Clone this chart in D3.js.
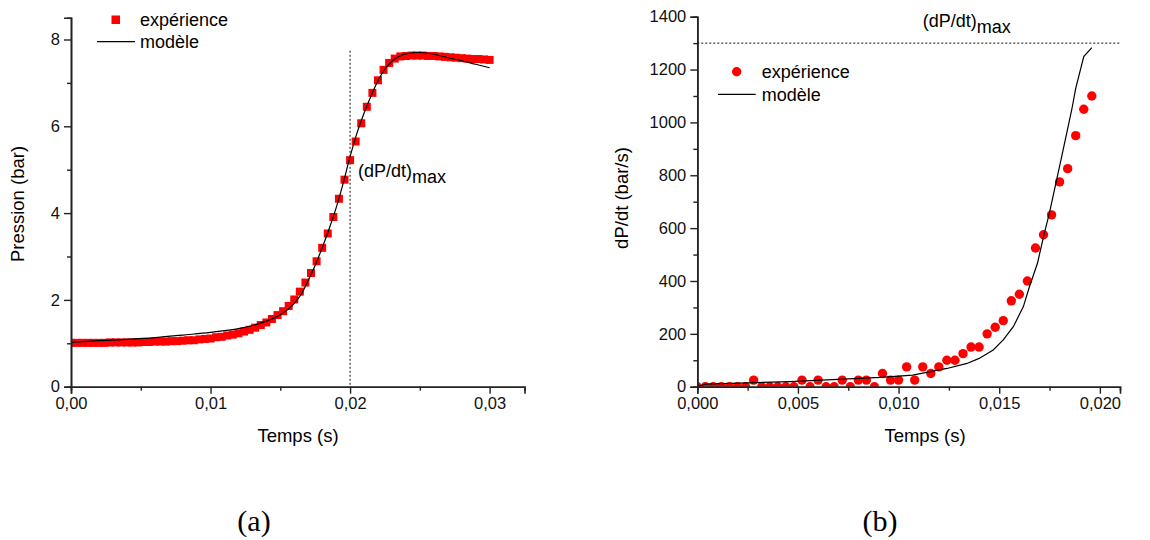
<!DOCTYPE html>
<html><head><meta charset="utf-8">
<script src="https://cdn.jsdelivr.net/npm/d3@7"></script>
<style>
body{margin:0;background:#fff;}
svg{display:block;font-family:"Liberation Sans",Arial,sans-serif;}
</style></head>
<body><svg id="c" width="1150" height="540"></svg>
<script>
// ---- Chart (a): pressure ----
const expTimeA = [0,0.0004,0.0008,0.0012,0.0016,0.002,0.0024,0.0028,0.0032,0.0036,0.004,0.0044,0.0048,0.0052,0.0056,0.006,0.0064,0.0068,0.0072,0.0076,0.008,0.0084,0.0088,0.0092,0.0096,0.01,0.0104,0.0108,0.0112,0.0116,0.012,0.0124,0.0128,0.0132,0.0136,0.014,0.0144,0.0148,0.0152,0.0156,0.016,0.0164,0.0168,0.0172,0.0176,0.018,0.0184,0.0188,0.0192,0.0196,0.02,0.0204,0.0208,0.0212,0.0216,0.022,0.0224,0.0228,0.0232,0.0236,0.024,0.0244,0.0248,0.0252,0.0256,0.026,0.0264,0.0268,0.0272,0.0276,0.028,0.0284,0.0288,0.0292,0.0296,0.03];
const expPressure = [1.01,1.01,1.01,1.01,1.01,1.01,1.01,1.02,1.02,1.02,1.02,1.02,1.02,1.03,1.03,1.04,1.04,1.04,1.05,1.05,1.06,1.07,1.07,1.09,1.10,1.11,1.14,1.15,1.18,1.20,1.23,1.27,1.31,1.36,1.42,1.48,1.56,1.65,1.74,1.86,2.01,2.19,2.40,2.62,2.89,3.20,3.53,3.91,4.33,4.77,5.22,5.65,6.07,6.45,6.77,7.06,7.30,7.46,7.56,7.61,7.62,7.63,7.63,7.63,7.62,7.62,7.61,7.60,7.59,7.58,7.57,7.56,7.55,7.55,7.54,7.53];
const modTimeA = [0,0.002,0.004,0.006,0.008,0.010,0.011,0.012,0.013,0.014,0.015,0.0155,0.016,0.0165,0.017,0.0175,0.018,0.0185,0.019,0.0195,0.020,0.0205,0.021,0.0215,0.022,0.0225,0.023,0.0235,0.024,0.025,0.026,0.027,0.028,0.029,0.030];
const modPressure = [1.02,1.06,1.09,1.13,1.19,1.25,1.29,1.34,1.41,1.51,1.66,1.77,1.92,2.13,2.45,2.80,3.20,3.64,4.12,4.68,5.30,5.85,6.30,6.70,7.05,7.32,7.50,7.61,7.67,7.70,7.66,7.58,7.51,7.43,7.35];
const xTicksA = [0,0.01,0.02,0.03];
const xTickLabelsA = ["0,00","0,01","0,02","0,03"];
const xMinorA = [0.005,0.015,0.025];
const yTicksA = [0,2,4,6,8];
const yTickLabelsA = ["0","2","4","6","8"];
const yMinorA = [1,3,5,7];
const dPdtMaxTimeA = 0.02;
const dashTopA = 7.74;

// ---- Chart (b): dP/dt ----
const expTimeB = [0,0.0004,0.0008,0.0012,0.0016,0.002,0.0024,0.0028,0.0032,0.0036,0.004,0.0044,0.0048,0.0052,0.0056,0.006,0.0064,0.0068,0.0072,0.0076,0.008,0.0084,0.0088,0.0092,0.0096,0.01,0.0104,0.0108,0.0112,0.0116,0.012,0.0124,0.0128,0.0132,0.0136,0.014,0.0144,0.0148,0.0152,0.0156,0.016,0.0164,0.0168,0.0172,0.0176,0.018,0.0184,0.0188,0.0192,0.0196];
const expRate = [0,0,0,0,0,0,0,25,0,0,0,0,0,25,0,25,0,0,25,0,25,25,0,50,25,25,75,25,75,50,75,100,100,125,150,150,200,225,250,325,350,400,525,575,650,775,825,950,1050,1100];
const modTimeB = [0,0.0004,0.0046,0.0091,0.0107,0.0124,0.0134,0.0140,0.0147,0.0152,0.0157,0.0162,0.0165,0.0169,0.0172,0.0175,0.0177,0.0181,0.0186,0.0188,0.0192,0.0196];
const modRate = [0,10,19,35,44,69,88,107,139,177,227,303,378,467,568,660,730,870,1047,1129,1249,1283];
const xTicksB = [0,0.005,0.01,0.015,0.02];
const xTickLabelsB = ["0,000","0,005","0,010","0,015","0,020"];
const xMinorB = [0.0025,0.0075,0.0125,0.0175];
const yTicksB = [0,200,400,600,800,1000,1200,1400];
const yTickLabelsB = ["0","200","400","600","800","1000","1200","1400"];
const yMinorB = [100,300,500,700,900,1100,1300];
const dPdtMaxRate = 1300;

const legendLabels = ["expérience","modèle"];

const svg = d3.select("#c");
const AX = "#222";
const FS_TICK = 16.5, FS_LAB = 18.5, FS_LEG = 18;

function drawAxes(g, x, y, xt, xtl, xm, yt, ytl, ym) {
  g.append("g").attr("transform", `translate(0,${y.range()[0]})`)
    .call(d3.axisBottom(x).tickValues(xt).tickFormat((d,i)=>xtl[i]).tickSizeOuter(0).tickSize(7).tickPadding(4));
  g.append("g").attr("transform", `translate(0,${y.range()[0]})`)
    .call(d3.axisBottom(x).tickValues(xm).tickFormat("").tickSizeOuter(0).tickSize(4));
  g.append("g").attr("transform", `translate(${x.range()[0]},0)`)
    .call(d3.axisLeft(y).tickValues(yt).tickFormat((d,i)=>ytl[i]).tickSizeOuter(0).tickSize(7).tickPadding(4));
  g.append("g").attr("transform", `translate(${x.range()[0]},0)`)
    .call(d3.axisLeft(y).tickValues(ym).tickFormat("").tickSizeOuter(0).tickSize(4));
  g.selectAll(".domain").attr("stroke", AX).attr("stroke-width", 1.6);
  g.selectAll(".tick line").attr("stroke", AX).attr("stroke-width", 1.4);
  g.selectAll(".tick text").attr("font-size", FS_TICK).attr("fill", "#111")
    .attr("font-family", '"Liberation Sans",Arial,sans-serif');
}

// ===== Chart A =====
const xA = d3.scaleLinear().domain([0, 0.0325]).range([71, 524.5]);
const yA = d3.scaleLinear().domain([0, 8.5]).range([386.7, 17.8]);
const gA = svg.append("g");
gA.append("clipPath").attr("id","clipA").append("rect")
  .attr("x",71).attr("y",0).attr("width",460).attr("height",386.7);

gA.append("line").attr("x1", xA(dPdtMaxTimeA)).attr("x2", xA(dPdtMaxTimeA))
  .attr("y1", yA(dashTopA)).attr("y2", yA(0))
  .attr("stroke","#111").attr("stroke-width",1).attr("stroke-dasharray","2,2");

gA.append("g").attr("clip-path","url(#clipA)").selectAll("rect")
  .data(expTimeA.map((t,i)=>[t,expPressure[i]])).join("rect")
  .attr("x", d=>xA(d[0])-4).attr("y", d=>yA(d[1])-4)
  .attr("width",8).attr("height",8).attr("fill","#ff0000");

gA.append("path").datum(modTimeA.map((t,i)=>[t,modPressure[i]]))
  .attr("d", d3.line().x(d=>xA(d[0])).y(d=>yA(d[1])).curve(d3.curveMonotoneX))
  .attr("fill","none").attr("stroke","#000").attr("stroke-width",1.2);

drawAxes(gA, xA, yA, xTicksA, xTickLabelsA, xMinorA, yTicksA, yTickLabelsA, yMinorA);

gA.append("text").attr("x", 298).attr("y", 442).attr("text-anchor","middle")
  .attr("font-size",FS_LAB).text("Temps (s)");
gA.append("text").attr("transform","translate(24,204) rotate(-90)").attr("text-anchor","middle")
  .attr("font-size",FS_LAB).text("Pression (bar)");
// legend A
gA.append("rect").attr("x",111.5).attr("y",15.5).attr("width",8.5).attr("height",8.5).attr("fill","#ff0000");
gA.append("text").attr("x",140).attr("y",26).attr("font-size",FS_LEG).text(legendLabels[0]);
gA.append("line").attr("x1",97).attr("x2",135).attr("y1",41.7).attr("y2",41.7).attr("stroke","#000").attr("stroke-width",1.2);
gA.append("text").attr("x",140).attr("y",48).attr("font-size",FS_LEG).text(legendLabels[1]);
// annotation A
const tA = gA.append("text").attr("x",358).attr("y",177).attr("font-size",FS_LEG);
tA.append("tspan").text("(dP/dt)");
tA.append("tspan").attr("dy",6).text("max");

// ===== Chart B =====
const xB = d3.scaleLinear().domain([0, 0.021]).range([697.3, 1120]);
const yB = d3.scaleLinear().domain([0, 1400]).range([386.7, 16.7]);
const gB = svg.append("g");
gB.append("clipPath").attr("id","clipB").append("rect")
  .attr("x",697.3).attr("y",0).attr("width",440).attr("height",386.7);

gB.append("line").attr("x1", xB(0)).attr("x2", xB(0.021))
  .attr("y1", yB(dPdtMaxRate)).attr("y2", yB(dPdtMaxRate))
  .attr("stroke","#111").attr("stroke-width",1).attr("stroke-dasharray","2,2");

gB.append("g").attr("clip-path","url(#clipB)").selectAll("circle")
  .data(expTimeB.map((t,i)=>[t,expRate[i]])).join("circle")
  .attr("cx", d=>xB(d[0])).attr("cy", d=>yB(d[1])).attr("r",4.7).attr("fill","#ff0000");

gB.append("path").datum(modTimeB.map((t,i)=>[t,modRate[i]]))
  .attr("d", d3.line().x(d=>xB(d[0])).y(d=>yB(d[1])))
  .attr("fill","none").attr("stroke","#000").attr("stroke-width",1.2);

drawAxes(gB, xB, yB, xTicksB, xTickLabelsB, xMinorB, yTicksB, yTickLabelsB, yMinorB);

gB.append("text").attr("x", 925).attr("y", 442).attr("text-anchor","middle")
  .attr("font-size",FS_LAB).text("Temps (s)");
gB.append("text").attr("transform","translate(628,198) rotate(-90)").attr("text-anchor","middle")
  .attr("font-size",FS_LAB).text("dP/dt (bar/s)");
// legend B
gB.append("circle").attr("cx",736.7).attr("cy",71.7).attr("r",4.7).attr("fill","#ff0000");
gB.append("text").attr("x",761.7).attr("y",78).attr("font-size",FS_LEG).text(legendLabels[0]);
gB.append("line").attr("x1",718).attr("x2",755.7).attr("y1",94.3).attr("y2",94.3).attr("stroke","#000").attr("stroke-width",1.2);
gB.append("text").attr("x",761.7).attr("y",100.5).attr("font-size",FS_LEG).text(legendLabels[1]);
// annotation B
const tB = gB.append("text").attr("x",922.7).attr("y",27).attr("font-size",FS_LEG);
tB.append("tspan").text("(dP/dt)");
tB.append("tspan").attr("dy",6).text("max");

// captions
svg.append("text").attr("x",254).attr("y",531).attr("text-anchor","middle")
  .attr("font-family",'"Liberation Serif","Times New Roman",serif').attr("font-size",30).text("(a)");
svg.append("text").attr("x",880).attr("y",531).attr("text-anchor","middle")
  .attr("font-family",'"Liberation Serif","Times New Roman",serif').attr("font-size",30).text("(b)");
</script></body></html>
